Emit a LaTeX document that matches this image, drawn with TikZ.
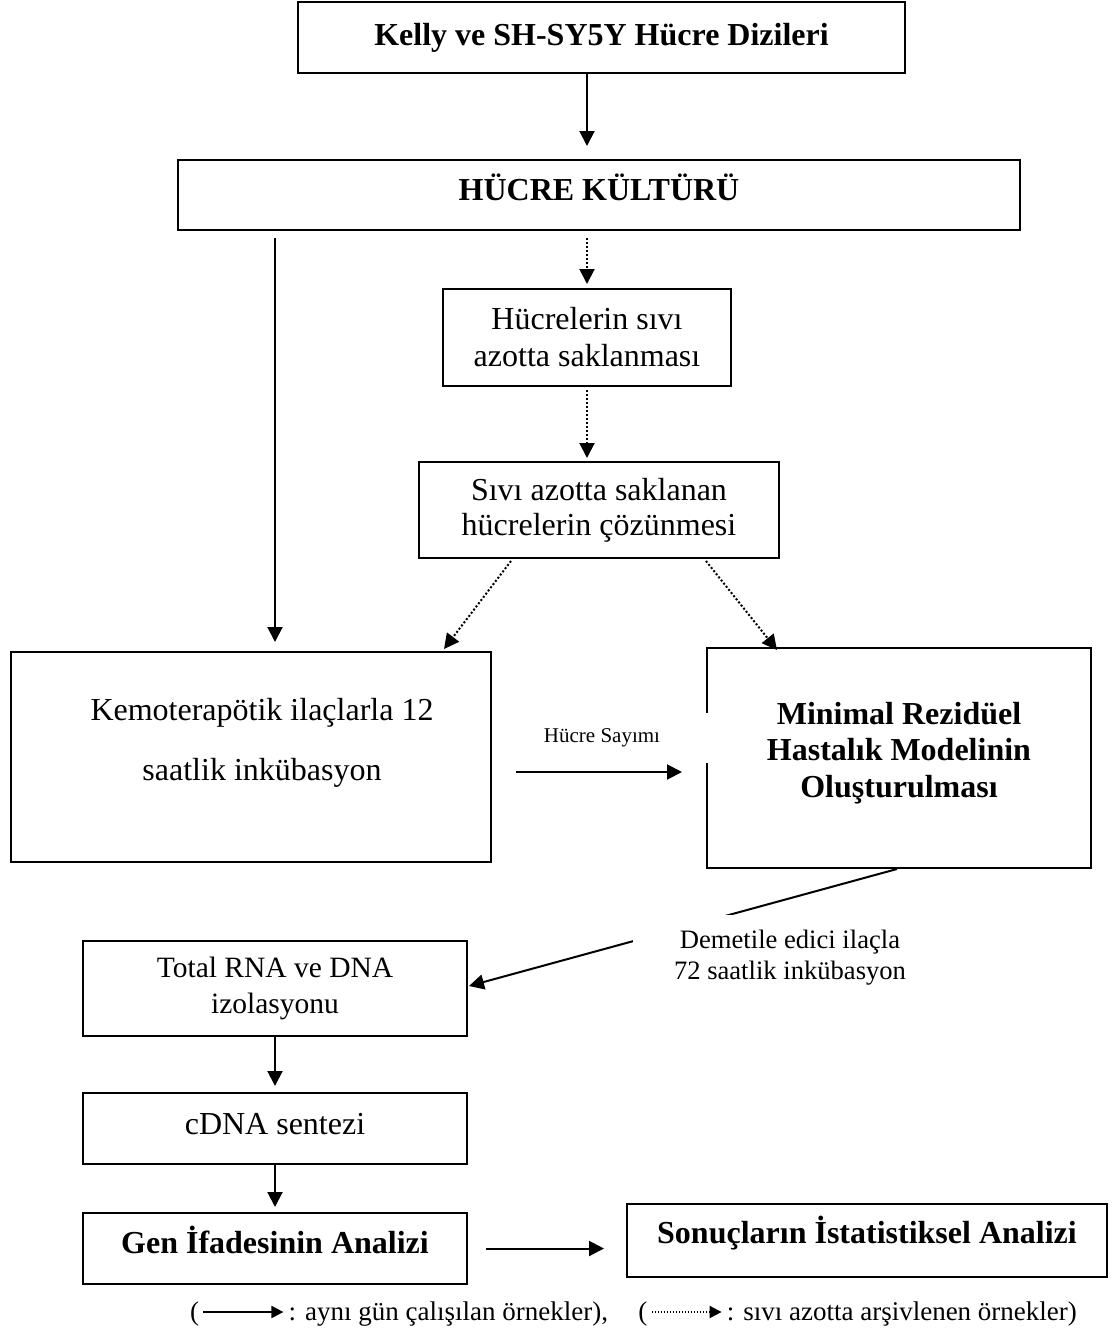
\documentclass[tikz,border=0pt]{standalone}
\usepackage{fontspec}
\setmainfont{Liberation Serif}
\usetikzlibrary{arrows.meta,calc}
\newcommand\myfs[2]{\fontsize{#1}{#2}\selectfont}
\tikzset{
  box/.style={draw, line width=2pt, inner sep=0pt, align=center, font=\myfs{32}{37}},
  bbox/.style={box, font=\myfs{32}{37}\bfseries},
  arr/.style={line width=2pt, -{Triangle[length=15pt,width=15pt]}},
  darr/.style={arr, dash pattern=on 2pt off 2pt},
  legarr/.style={line width=2pt, -{Triangle[length=12pt,width=12pt]}},
  leg/.style={inner sep=0pt, font=\myfs{27}{31}},
  lbl/.style={fill=white, inner sep=0pt, align=center}
}
\begin{document}
\begin{tikzpicture}[x=1pt,y=-1pt]
\useasboundingbox[fill=white] (0,0) rectangle (1113,1342);

% boxes
\node[bbox, minimum width=607, minimum height=71] (kelly) at (601.5,37.5) {Kelly ve SH-SY5Y Hücre Dizileri};
\node[bbox, minimum width=842, minimum height=70, text height=26pt, text depth=16pt] (kultur) at (599,195) {HÜCRE KÜLTÜRÜ};
\node[box, minimum width=288, minimum height=97] (sakla) at (587,337.5) {Hücrelerin sıvı\\azotta saklanması};
\node[box, minimum width=360, minimum height=96, font=\myfs{32}{35}] (cozun) at (599,510) {Sıvı azotta saklanan\\hücrelerin çözünmesi};
\node[box, minimum width=480, minimum height=210,
  label={[font=\myfs{32}{60}, align=center, xshift=11pt, yshift=14pt]center:Kemoterapötik ilaçlarla 12\\saatlik inkübasyon}] (kemo) at (251,757) {};
\node[bbox, minimum width=384, minimum height=220,
  label={[font=\myfs{32}{36.5}\bfseries, align=center, yshift=5pt]center:Minimal Rezidüel\\Hastalık Modelinin\\Oluşturulması}] (minimal) at (899,758) {};
\node[box, minimum width=384, minimum height=95, font=\myfs{29.5}{36}] (rna) at (275,988.5) {Total RNA ve DNA\\izolasyonu};
\node[box, minimum width=384, minimum height=71, text height=30pt, text depth=19pt] (cdna) at (275,1128.5) {cDNA sentezi};
\node[bbox, minimum width=384, minimum height=71, text height=30pt, text depth=21pt] (gen) at (275,1248.5) {Gen İfadesinin Analizi};
\node[bbox, minimum width=480, minimum height=73, text height=30pt, text depth=24pt] (sonuc) at (867,1240.5) {Sonuçların İstatistiksel Analizi};

% connectors
\draw[arr] (kelly.south -| sakla.north) -- ([yshift=13pt]kultur.north -| sakla.north);
\draw[arr] ([yshift=-7pt]kultur.south -| rna.north) -- ([yshift=9pt]kemo.north -| rna.north);
\draw[darr] ([yshift=-7pt]kultur.south -| sakla.north) -- ([yshift=4pt]sakla.north);
\draw[darr] ([yshift=-3pt]sakla.south) -- ([yshift=3pt]cozun.north -| sakla.south);
\draw[darr] ($(cozun.south west)+(93,2)$) -- ($(kemo.north east)+(-48,-2)$);
\draw[darr] ($(cozun.south west)+(288,2)$) -- ($(minimal.north west)+(71,3)$);
\draw[arr] ($(kemo.east)+(24,15)$) -- ($(minimal.west)+(-24,14)$);
\draw[arr] ($(minimal.south west)+(191,0)$) -- ($(rna.north east)+(1,46)$);
\draw[arr] (rna.south) -- ([yshift=6pt]cdna.north);
\draw[arr] (cdna.south) -- ([yshift=5pt]gen.north);
\draw[arr] ([xshift=18pt]gen.east) -- ([xshift=-22pt]gen.east -| sonuc.west);

% labels on connectors
\node[lbl, minimum width=214, minimum height=50, font=\myfs{21}{25}] (sayim) at (602,738) {Hücre Sayımı};
\node[lbl, minimum width=315, minimum height=86, font=\myfs{26.6}{31}] (demet) at (790,958) {Demetile edici ilaçla\\72 saatlik inkübasyon};

% legend
\node[leg, anchor=base west] (lp1) at (190,1320) {(};
\coordinate (la1) at ([xshift=4pt,yshift=8pt]lp1.base east);
\coordinate (lb1) at ([xshift=80pt]la1);
\draw[legarr] (la1) -- (lb1);
\node[leg, anchor=base west] (lt1) at ([xshift=5pt,yshift=-8pt]lb1) {: aynı gün çalışılan örnekler),};
\node[leg, anchor=base west] (lp2) at ([xshift=30pt]lt1.base east) {(};
\coordinate (la2) at ([xshift=4pt,yshift=8pt]lp2.base east);
\coordinate (lb2) at ([xshift=70pt]la2);
\draw[legarr, dash pattern=on 1.5pt off 1.5pt] (la2) -- (lb2);
\node[leg, anchor=base west] (lt2) at ([xshift=5pt,yshift=-8pt]lb2) {: sıvı azotta arşivlenen örnekler)};
\end{tikzpicture}
\end{document}
